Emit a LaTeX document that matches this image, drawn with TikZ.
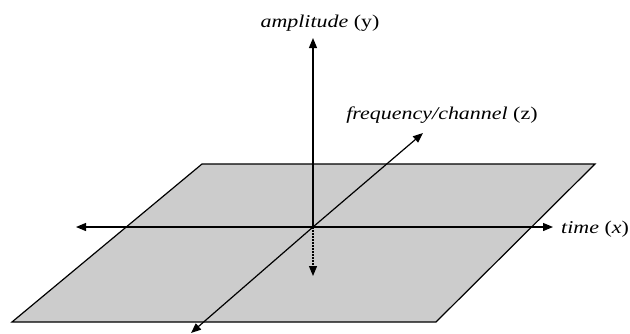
\documentclass[tikz,border=0pt]{standalone}
\usepackage{fontspec}
\setmainfont[FakeStretch=1.22]{Liberation Serif}
\usetikzlibrary{arrows.meta}
\begin{document}
\begin{tikzpicture}[x=1pt,y=-1pt,
  axis/.style={line width=1.2pt,-{Triangle[length=10pt,width=8pt]}},
  lbl/.style={inner sep=0pt,font=\fontsize{18}{21}\selectfont}]
\useasboundingbox (0,0) rectangle (630,333);
% plane
\coordinate (p1) at (202,164);
\coordinate (p2) at (595,164);
\coordinate (p3) at (436,322);
\coordinate (p4) at (12,322);
\filldraw[fill=black!20,draw=black,line width=1.2pt] (p1) -- (p2) -- (p3) -- (p4) -- cycle;
% origin and axis ends
\coordinate (o) at (313,227);
\coordinate (ytop) at (313,38);
\coordinate (ybot) at (313,276);
\coordinate (xleft) at (76,227);
\coordinate (xright) at (553,227);
\coordinate (ztop) at (423,133);
\coordinate (zbot) at (191,333);
\draw[axis] (o) -- (ytop);
\draw[axis,dash pattern=on 1.5pt off 1.5pt] (o) -- (ybot);
\draw[axis] (o) -- (xleft);
\draw[axis] (o) -- (xright);
\draw[axis] (o) -- (ztop);
\draw[axis] (o) -- (zbot);
% labels
\node[lbl] (ly) at (320,23) {\textit{amplitude} (y)};
\node[lbl] (lz) at (442,115) {\textit{frequency/channel} (z)};
\node[lbl,anchor=west] (lx) at (561,229) {\textit{time} (\textit{x})};
\end{tikzpicture}
\end{document}
